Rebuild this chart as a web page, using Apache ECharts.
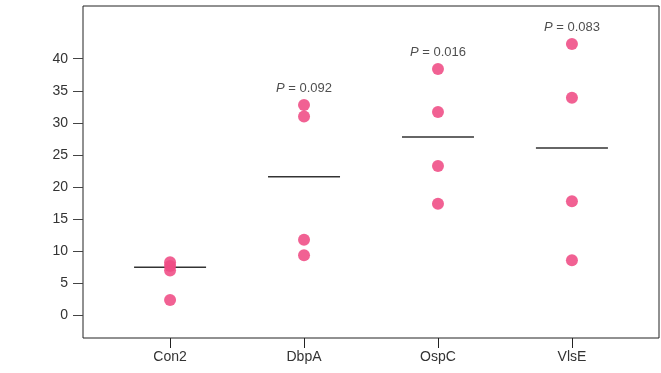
<!DOCTYPE html>
<html>
<head>
<meta charset="utf-8">
<script src="https://cdn.jsdelivr.net/npm/echarts@6/dist/echarts.min.js"></script>
<style>
  html, body { margin: 0; padding: 0; background: #fff; }
  #chart { width: 661px; height: 373px; }
</style>
</head>
<body>
<div id="chart"></div>
<script>
// 各组数据
var categories = ["Con2", "DbpA", "OspC", "VlsE"];
var con2 = [8.3, 7.7, 7.0, 2.4];
var dbpA = [32.8, 31.0, 11.8, 9.4];
var ospC = [38.4, 31.7, 23.3, 17.4];
var vlsE = [42.3, 33.9, 17.8, 8.6];
var centerLines = [7.5, 21.6, 27.8, 26.1];
var pValues = [null, "0.092", "0.016", "0.083"];
var yTicks = [0, 5, 10, 15, 20, 25, 30, 35, 40];

var groups = [con2, dbpA, ospC, vlsE];
var font = "'Liberation Sans', Arial, sans-serif";

var points = [];
groups.forEach(function (vals, i) {
  vals.forEach(function (v) { points.push([i + 1, v]); });
});

var lineData = centerLines.map(function (v, i) { return [i + 1, v]; });

var pData = [];
pValues.forEach(function (p, i) {
  if (p) pData.push({ value: [i + 1, Math.max.apply(null, groups[i])], p: p });
});

var myChart = echarts.init(document.getElementById("chart"));
myChart.setOption({
  animation: false,
  grid: {
    left: 83,
    right: 2,
    top: 6,
    bottom: 35,
    show: true,
    borderColor: "#222",
    borderWidth: 1
  },
  xAxis: {
    type: "value",
    min: 0.35,
    max: 4.65,
    splitLine: { show: false },
    axisLine: { show: false, onZero: false },
    axisTick: {
      show: true,
      inside: false,
      length: 10,
      lineStyle: { color: "#222" },
      customValues: [1, 2, 3, 4]
    },
    axisLabel: {
      margin: 12,
      fontFamily: font,
      fontSize: 14,
      color: "#333",
      customValues: [1, 2, 3, 4],
      formatter: function (v) { return categories[Math.round(v) - 1]; }
    }
  },
  yAxis: {
    type: "value",
    min: -3.5,
    max: 48.2,
    splitLine: { show: false },
    axisLine: { show: false, onZero: false },
    axisTick: {
      show: true,
      length: 10,
      lineStyle: { color: "#444" },
      customValues: yTicks
    },
    axisLabel: {
      margin: 15,
      fontFamily: font,
      fontSize: 14,
      color: "#333",
      customValues: yTicks
    }
  },
  series: [
    {
      // 中位线
      type: "scatter",
      symbol: "rect",
      symbolSize: [72, 1.5],
      itemStyle: { color: "#000" },
      data: lineData,
      z: 1
    },
    {
      type: "scatter",
      symbolSize: 12,
      itemStyle: { color: "#ef4b84", opacity: 0.88 },
      data: points,
      z: 2
    },
    {
      // P 值标注
      type: "scatter",
      symbolSize: 2,
      itemStyle: { color: "rgba(0,0,0,0)" },
      data: pData,
      z: 3,
      label: {
        show: true,
        position: "top",
        distance: 9,
        formatter: function (params) {
          return "{i|P} = " + params.data.p;
        },
        fontFamily: font,
        fontSize: 13,
        color: "#222",
        rich: {
          i: { fontStyle: "italic", fontFamily: font, fontSize: 13, color: "#222" }
        }
      }
    }
  ]
});
</script>
</body>
</html>
